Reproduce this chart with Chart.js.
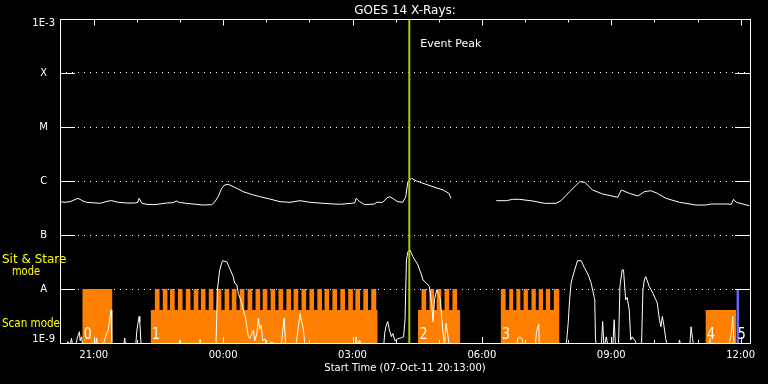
<!DOCTYPE html>
<html><head><meta charset="utf-8">
<script src="https://cdn.jsdelivr.net/npm/chart.js@4.4.1/dist/chart.umd.min.js"></script>
<style>html,body{margin:0;padding:0;background:#000;overflow:hidden}canvas{display:block}</style>
</head><body>
<canvas id="c" width="768" height="384"></canvas>
<script>
// ---- data (x = minutes after start time 07-Oct-11 20:13:00) ----
const titleText = 'GOES 14 X-Rays:';
const xAxisTitle = 'Start Time (07-Oct-11 20:13:00)';
const xMin = 0, xMax = 960;
const xTickMinutes = [47, 227, 407, 587, 767, 947];
const xTickLabels = ['21:00', '00:00', '03:00', '06:00', '09:00', '12:00'];
const xMinorTickMinutes = [107, 167, 287, 347, 467, 527, 647, 707, 827, 887];
const yTickValues = [1e-9, 1e-8, 1e-7, 1e-6, 1e-5, 1e-4, 1e-3];
const yTickLabels = ['1E-9', 'A', 'B', 'C', 'M', 'X', '1E-3'];

const eventPeakMinute = 486;
const eventLabel = 'Event Peak';

// long channel (1-8 A)
const longTime = [0,7,14,25,32,37,56,67,72,81,93,104,108,110,114,121,132,148,157,162,166,176,185,199,211,215,220,225,229,234,246,255,266,278,292,306,320,334,348,366,389,405,410,412,417,424,438,440,449,455,459,465,470,477,481,484,489,496,505,519,533,541,544,575,607,621,630,639,658,674,690,697,709,723,730,741,755,776,781,792,804,813,822,831,843,862,885,899,906,927,934,937,941,959];
const longFlux = [4.14e-7,4.03e-7,4.14e-7,4.78e-7,4.26e-7,4.03e-7,3.86e-7,4.26e-7,4.32e-7,4.03e-7,3.91e-7,3.91e-7,4.0e-7,4.78e-7,3.86e-7,3.70e-7,3.64e-7,3.91e-7,3.96e-7,4.26e-7,4.0e-7,3.86e-7,3.75e-7,3.59e-7,3.64e-7,4.03e-7,5.12e-7,7.32e-7,8.43e-7,8.69e-7,7.32e-7,6.34e-7,5.67e-7,5.12e-7,4.64e-7,4.14e-7,4.03e-7,4.32e-7,4.03e-7,3.86e-7,3.70e-7,3.86e-7,3.91e-7,4.78e-7,4.14e-7,3.64e-7,3.75e-7,4.03e-7,4.03e-7,4.91e-7,5.12e-7,4.55e-7,4.14e-7,4.03e-7,5.12e-7,9.7e-7,1.12e-6,1.0e-6,9.07e-7,7.84e-7,6.81e-7,5.92e-7,4.78e-7,null,4.32e-7,4.32e-7,4.58e-7,4.58e-7,4.26e-7,3.86e-7,3.86e-7,4.32e-7,6.34e-7,9.7e-7,9.46e-7,6.81e-7,5.74e-7,4.99e-7,6.81e-7,5.92e-7,5.27e-7,6.34e-7,6.61e-7,5.92e-7,4.78e-7,4.03e-7,3.59e-7,3.59e-7,3.75e-7,3.75e-7,3.70e-7,4.58e-7,4.03e-7,3.49e-7];

// short channel (0.5-4 A)
const shortTime = [0,9,11,13,16,18,22,24,27,28,30,32,49,51,53,60,64,67,70,71,72,74,88,90,92,105,107,110,111,113,165,167,169,193,195,197,217,219,222,226,232,236,241,243,246,248,252,255,258,260,262,264,267,269,271,274,276,278,280,282,285,288,295,300,308,310,312,314,328,331,334,336,338,339,341,410,412,414,417,419,450,452,454,456,458,461,463,466,470,474,478,480,482,484,487,491,498,503,505,510,514,517,519,521,524,527,529,531,533,535,537,539,542,635,637,640,643,645,661,663,666,667,704,707,709,711,714,720,725,730,735,739,744,745,748,753,755,757,760,763,769,771,773,777,779,782,784,787,789,792,794,796,800,805,809,811,813,815,820,825,829,831,834,836,838,840,843,846,860,862,864,876,878,880,882,902,904,906,930,934,936,938,960];
const shortFlux = [8e-10,8e-10,1.06e-9,8e-10,1.22e-9,8e-10,9e-10,1.24e-9,1.62e-9,1.1e-9,1.3e-9,8e-10,8e-10,1.24e-9,8e-10,9e-10,1.41e-9,1.74e-9,3.3e-9,4.1e-9,1.1e-9,8e-10,8e-10,1.24e-9,8e-10,8e-10,1.74e-9,3.1e-9,2.5e-9,8e-10,8e-10,1.14e-9,8e-10,8e-10,1.17e-9,8e-10,8e-10,9.6e-9,2.2e-8,3.34e-8,3.2e-8,2.42e-8,1.69e-8,1.28e-8,1.2e-8,8.3e-9,6e-9,4.1e-9,3e-9,2e-9,1.31e-9,1.2e-9,1.5e-9,1.74e-9,1.1e-9,1.5e-9,2.9e-9,1.8e-9,2.15e-9,1.1e-9,1.2e-9,9e-10,1.05e-9,9e-10,9e-10,1.74e-9,2.9e-9,8e-10,8e-10,1.74e-9,3.5e-9,2.5e-9,2e-9,1.62e-9,8e-10,8e-10,1.3e-9,9e-10,1.14e-9,8e-10,8e-10,1.6e-9,2.15e-9,2.5e-9,1.8e-9,1.31e-9,1.5e-9,1.1e-9,1.2e-9,1.24e-9,1.3e-9,2.7e-9,3.44e-8,4.91e-8,5.27e-8,3.96e-8,2.78e-8,1.82e-8,1.47e-8,1.28e-8,1.1e-8,5.4e-9,2.5e-9,6.3e-9,9.6e-9,8e-9,6.5e-9,3.1e-9,1.51e-9,9e-10,2.3e-9,1.6e-9,8e-10,8e-10,1.22e-9,1.3e-9,1.2e-9,8e-10,8e-10,1.62e-9,2.25e-9,8e-10,8e-10,2.3e-9,6.3e-9,1.28e-8,1.82e-8,3.34e-8,3.34e-8,2.42e-8,1.82e-8,1.28e-8,6.3e-9,1.14e-9,8e-10,8e-10,2.5e-9,8e-10,1.3e-9,8e-10,8e-10,2.7e-9,8e-10,8e-10,1.1e-8,2.25e-8,2.25e-8,6.3e-9,7e-9,4.1e-9,1.14e-9,1.3e-9,1.1e-9,8e-10,8e-10,9.6e-9,1.47e-8,1.69e-8,1.1e-8,8.3e-9,6.3e-9,5.5e-9,2.7e-9,2e-9,3.1e-9,2.2e-9,1.14e-9,8e-10,8e-10,1.14e-9,8e-10,8e-10,2e-9,1.2e-9,8e-10,8e-10,1.22e-9,8e-10,8e-10,1.5e-9,3.1e-9,8e-10,8e-10];

// observing segments
const segLabels = ['0', '1', '2', '3', '4', '5'];
const segStart = [31, 126, 498, 613, 898, 941];
const segEnd = [73, 442, 557, 695, 941, 945];
const segMode = ['stare', 'scan', 'scan', 'scan', 'scan', 'stare'];
const scanLevel = 4.1e-9;
const stareLevel = 1e-8;
const teethStart = [132,143,153,164,175,186,196,207,218,229,239,250,261,272,282,293,304,315,325,336,347,358,368,379,390,401,411,422,433, 503,514,524,535,546, 613,625,635,645,656,666,676,687];
const teethEnd   = [138.5,149.5,159.5,170.5,181.5,192.5,202.5,213.5,224.5,235.5,245.5,256.5,267.5,278.5,288.5,299.5,310.5,321.5,331.5,342.5,353.5,364.5,374.5,385.5,396.5,407.5,417.5,428.5,440, 509.5,520.5,530.5,541.5,552.5, 620,630.5,640.5,651,662,672,682,695];

// ---- styles ----
const WHITE = '#ffffff', ORANGE = '#ff8000', BLUE = '#6464ff', GREEN = '#a0d000', YELLOW = '#ffff00';
const segColors = [ORANGE, ORANGE, ORANGE, ORANGE, ORANGE, BLUE];
const FONT = 'DejaVu Sans';

function pairs(xs, ys) { return xs.map((x, i) => ({x: x, y: ys[i]})); }
function segOutline(i) {
  const s = segStart[i], e = segEnd[i], pts = [];
  if (segMode[i] === 'stare') { pts.push({x: s, y: stareLevel}, {x: e, y: stareLevel}); return pts; }
  pts.push({x: s, y: scanLevel});
  for (let k = 0; k < teethStart.length; k++) {
    const a = teethStart[k], b = teethEnd[k];
    if (a >= s && b <= e) pts.push({x: a, y: scanLevel}, {x: a, y: stareLevel}, {x: b, y: stareLevel}, {x: b, y: scanLevel});
  }
  pts.push({x: e, y: scanLevel});
  return pts;
}

const datasets = [
  {data: [{x: eventPeakMinute, y: yTickValues[0]}, {x: eventPeakMinute, y: yTickValues[yTickValues.length - 1]}],
   borderColor: GREEN, borderWidth: 2, pointRadius: 0, order: 0},
  {data: pairs(longTime, longFlux), borderColor: WHITE, borderWidth: 1, pointRadius: 0, spanGaps: false, order: 1},
  {data: pairs(shortTime, shortFlux), borderColor: WHITE, borderWidth: 1, pointRadius: 0, order: 2}
];
segStart.forEach((s, i) => datasets.push({
  data: segOutline(i), borderWidth: 0, borderColor: 'rgba(0,0,0,0)', backgroundColor: segColors[i],
  fill: 'start', pointRadius: 0, order: 3
}));

const decor = {
  id: 'decor',
  beforeDraw(chart) {
    const ctx = chart.ctx;
    ctx.save(); ctx.fillStyle = '#000'; ctx.fillRect(0, 0, chart.width, chart.height); ctx.restore();
    const ys = chart.scales.y;
    const items = ys.getLabelItems();
    items.forEach(it => {
      const tr = it.options ? it.options.translation : it.translation;
      if (!tr) return;
      if (it.label === yTickLabels[0]) tr[1] -= 3.5;
      if (it.label === yTickLabels[yTickLabels.length - 1]) tr[1] += 4;
    });
  },
  afterDatasetsDraw(chart) {
    const ctx = chart.ctx, ca = chart.chartArea, xs = chart.scales.x, ys = chart.scales.y;
    ctx.save();
    ctx.strokeStyle = WHITE; ctx.lineWidth = 1;
    ctx.strokeRect(ca.left + 0.5, ca.top + 0.5, ca.right - ca.left, ca.bottom - ca.top);
    ctx.beginPath();
    xTickMinutes.forEach(v => {
      const p = Math.round(xs.getPixelForValue(v)) + 0.5;
      ctx.moveTo(p, ca.top); ctx.lineTo(p, ca.top + 6.5);
      ctx.moveTo(p, ca.bottom); ctx.lineTo(p, ca.bottom - 6);
    });
    xMinorTickMinutes.forEach(v => {
      const p = Math.round(xs.getPixelForValue(v)) + 0.5;
      ctx.moveTo(p, ca.top); ctx.lineTo(p, ca.top + 3.5);
      ctx.moveTo(p, ca.bottom); ctx.lineTo(p, ca.bottom - 3);
    });
    yTickValues.slice(1, -1).forEach(v => {
      const p = Math.round(ys.getPixelForValue(v)) + 0.5;
      ctx.moveTo(ca.left, p); ctx.lineTo(ca.left + 15, p);
      ctx.moveTo(ca.right, p); ctx.lineTo(ca.right - 15, p);
    });
    ctx.stroke();

    // title
    ctx.fillStyle = WHITE; ctx.textBaseline = 'alphabetic';
    ctx.textAlign = 'center'; ctx.font = '12px "' + FONT + '"';
    ctx.fillText(titleText, (ca.left + ca.right) / 2, 14);
    // event label
    ctx.textAlign = 'left'; ctx.font = '11px "' + FONT + '"';
    ctx.fillText(eventLabel, xs.getPixelForValue(eventPeakMinute) + 11, 47);
    // segment numbers
    ctx.font = '15px "' + FONT + '"';
    segLabels.forEach((t, i) => ctx.fillText(t, xs.getPixelForValue(segStart[i]) + 1.5, ca.bottom - 4, 8));
    // mode labels
    ctx.fillStyle = YELLOW;
    ctx.font = '12px "' + FONT + '"';
    ctx.fillText('Sit & Stare', 2, 263, 65);
    ctx.fillText('mode', 12, 275, 28);
    ctx.fillText('Scan mode', 2, 327, 58);
    ctx.restore();
  }
};

new Chart(document.getElementById('c'), {
  type: 'line',
  data: {datasets: datasets},
  plugins: [decor],
  options: {
    responsive: false, animation: false, devicePixelRatio: 1,
    layout: {padding: {top: 19, right: 18, left: 0, bottom: 0}},
    elements: {line: {tension: 0}},
    plugins: {legend: {display: false}, tooltip: {enabled: false}, title: {display: false}},
    scales: {
      x: {
        type: 'linear', min: xMin, max: xMax,
        afterBuildTicks: s => { s.ticks = xTickMinutes.map(v => ({value: v})); },
        afterFit: s => { s.height = 41; },
        grid: {display: false, drawTicks: false},
        border: {display: false},
        ticks: {color: WHITE, font: {family: FONT, size: 10}, padding: 6, maxRotation: 0, autoSkip: false,
                callback: v => xTickLabels[xTickMinutes.indexOf(v)]},
        title: {display: true, text: xAxisTitle, color: WHITE, font: {family: FONT, size: 10}, padding: {top: 0, bottom: 10}}
      },
      y: {
        type: 'logarithmic', min: yTickValues[0], max: yTickValues[yTickValues.length - 1],
        afterBuildTicks: s => { s.ticks = yTickValues.map(v => ({value: v})); },
        afterFit: s => { s.width = 60; },
        grid: {display: true, color: WHITE, lineWidth: 1, drawTicks: false},
        border: {display: false, dash: [1, 5]},
        ticks: {color: WHITE, font: {family: FONT, size: 10}, padding: 5, crossAlign: 'center', autoSkip: false,
                callback: (v) => { const i = yTickValues.indexOf(v); return i >= 0 ? yTickLabels[i] : ''; }}
      }
    }
  }
});
</script></body></html>
